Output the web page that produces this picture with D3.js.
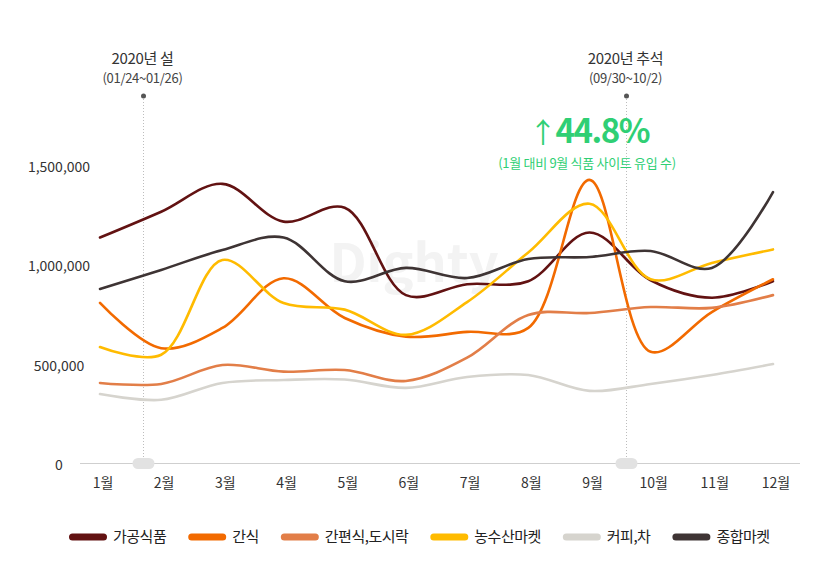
<!DOCTYPE html>
<html>
<head>
<meta charset="utf-8">
<script src="https://cdn.jsdelivr.net/npm/d3@7"></script>
<style>
  body { margin: 0; background: #fff; }
  svg { display: block; font-family: "Noto Sans CJK KR", "Noto Sans", sans-serif; }
</style>
</head>
<body>
<svg id="chart" width="830" height="576"></svg>
<script>
// months on the x axis
var months = ['1월', '2월', '3월', '4월', '5월', '6월', '7월', '8월', '9월', '10월', '11월', '12월'];
var yTicks = [0, 500000, 1000000, 1500000];

// monthly site visits per category
var processed     = [1135000, 1265000, 1405000, 1215000, 1285000, 845000, 900000, 915000, 1160000, 920000, 832000, 915000];
var snack         = [806000, 578000, 680000, 930000, 730000, 636000, 660000, 680000, 1425000, 560000, 760000, 925000];
var convenience   = [403000, 398000, 493000, 460000, 468000, 413000, 530000, 745000, 755000, 785000, 781000, 845000];
var farmMarket    = [584000, 545000, 1022000, 805000, 772000, 645000, 810000, 1060000, 1305000, 925000, 1007000, 1075000];
var coffeeTea     = [347000, 318000, 403000, 418000, 420000, 378000, 433000, 443000, 363000, 398000, 443000, 498000];
var generalMarket = [876000, 972000, 1072000, 1135000, 915000, 982000, 931000, 1027000, 1037000, 1067000, 982000, 1364000];

var seriesNames = ['가공식품', '간식', '간편식,도시락', '농수산마켓', '커피,차', '종합마켓'];
var seriesValues = [processed, snack, convenience, farmMarket, coffeeTea, generalMarket];
var colors = ['#621212', '#f26a00', '#e27e48', '#ffbb00', '#d6d4ce', '#3e3434'];

// holidays: month position (fractional index) and labels
var holidays = [
  {pos: 0.7, title: '2020년 설', sub: '(01/24~01/26)'},
  {pos: 8.6, title: '2020년 추석', sub: '(09/30~10/2)'}
];

var svg = d3.select('#chart');

var x = d3.scalePoint().domain(months).range([100, 773]);
var xi = d3.scaleLinear().domain([0, 11]).range([100, 773]);
var y = d3.scaleLinear().domain([0, 1500000]).range([463, 165]);

// watermark
svg.append('text')
  .attr('x', 414).attr('y', 282)
  .attr('text-anchor', 'middle')
  .style('font-size', '52px').style('font-weight', 700)
  .style('fill', '#f3f3f3')
  .text('Dighty');

// baseline
svg.append('line')
  .attr('x1', 80).attr('x2', 800)
  .attr('y1', y(0) + 0.5).attr('y2', y(0) + 0.5)
  .attr('stroke', '#cfcfcf');

// y labels
svg.selectAll('.ylab').data(yTicks).enter().append('text')
  .attr('class', 'ylab')
  .attr('x', 59)
  .attr('y', function(d) { return y(d) + 7; })
  .attr('text-anchor', 'middle')
  .style('font-size', '14px').style('fill', '#333')
  .text(function(d) { return d3.format(',')(d); });

// x labels
svg.selectAll('.xlab').data(months).enter().append('text')
  .attr('class', 'xlab')
  .attr('x', function(d) { return x(d) + 3; })
  .attr('y', 488)
  .attr('text-anchor', 'middle')
  .style('font-size', '14px').style('fill', '#333')
  .text(function(d) { return d; });

// holiday markers
holidays.forEach(function(h) {
  var hx = Math.round(xi(h.pos)) + 0.5;
  svg.append('line')
    .attr('x1', hx).attr('x2', hx)
    .attr('y1', 96).attr('y2', y(0))
    .attr('stroke', '#bdbdbd').attr('stroke-dasharray', '1,2');
  svg.append('circle').attr('cx', hx).attr('cy', 96).attr('r', 2.5).attr('fill', '#555');
  svg.append('rect')
    .attr('x', hx - 11).attr('y', y(0) - 5)
    .attr('width', 22).attr('height', 11).attr('rx', 5.5)
    .attr('fill', '#e2e2e2');
  svg.append('text')
    .attr('x', hx - 1).attr('y', 64)
    .attr('text-anchor', 'middle')
    .style('font-size', '15px').style('fill', '#333')
    .style('letter-spacing', '-0.3px')
    .text(h.title);
  svg.append('text')
    .attr('x', hx - 1).attr('y', 83)
    .attr('text-anchor', 'middle')
    .style('font-size', '13px').style('fill', '#444')
    .style('letter-spacing', '-0.3px')
    .text(h.sub);
});

// lines
var line = d3.line()
  .x(function(d, i) { return x(months[i]); })
  .y(function(d) { return y(d); })
  .curve(d3.curveCatmullRom);

seriesValues.forEach(function(vals, k) {
  svg.append('path')
    .attr('d', line(vals))
    .attr('fill', 'none')
    .attr('stroke', colors[k])
    .attr('stroke-width', 2.6)
    .attr('stroke-linecap', 'round');
});

// highlight text
var big = svg.append('text')
  .attr('x', 589).attr('y', 143)
  .attr('text-anchor', 'middle')
  .style('fill', '#2fcf74')
  .style('letter-spacing', '-1.5px');
big.append('tspan').style('font-size', '28px').style('font-weight', 400).text('↑');
big.append('tspan').style('font-size', '33px').style('font-weight', 700).text('44.8%');

svg.append('text')
  .attr('x', 587).attr('y', 168)
  .attr('text-anchor', 'middle')
  .style('font-size', '13px').style('fill', '#2fcf74')
  .style('letter-spacing', '-0.3px')
  .text('(1월 대비 9월 식품 사이트 유입 수)');

// legend
var lx = 69;
seriesNames.forEach(function(name, k) {
  svg.append('line')
    .attr('x1', lx + 3.5).attr('x2', lx + 38 - 3.5)
    .attr('y1', 537).attr('y2', 537)
    .attr('stroke', colors[k]).attr('stroke-width', 7)
    .attr('stroke-linecap', 'round');
  var t = svg.append('text')
    .attr('x', lx + 44).attr('y', 542)
    .style('font-size', '15px').style('fill', '#222')
    .style('letter-spacing', '-0.5px')
    .text(name);
  lx += 44 + t.node().getComputedTextLength() + 22;
});
</script>
</body>
</html>
